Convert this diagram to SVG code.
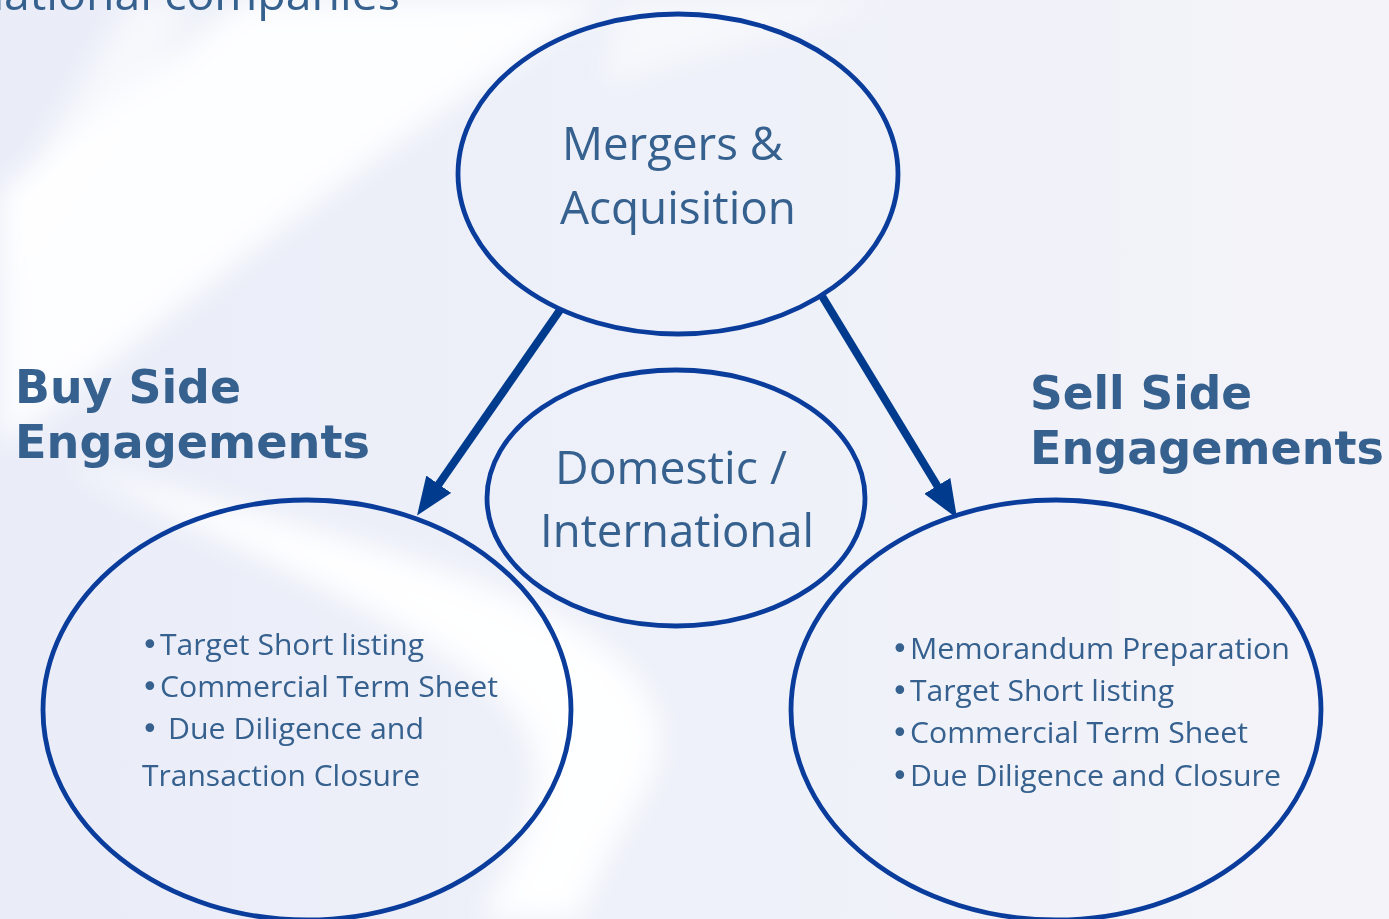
<svg xmlns="http://www.w3.org/2000/svg" width="1389" height="919" viewBox="0 0 1389 919">
  <defs>
    <style>
      .ell { fill: none; stroke: #0a3c9c; stroke-width: 4.8; }
      .t { font-family: "Open Sans", "Noto Sans", sans-serif; fill: #36618f; }
      .big { font-size: 46px; }
      .lst { font-size: 30px; }
      .b { font-family: "DejaVu Sans", sans-serif; font-size: 30px; }
      .hd { font-family: "DejaVu Sans", "Verdana", sans-serif; font-weight: bold; font-size: 46px; fill: #36618f; }
      .arr { stroke: #003b8e; stroke-width: 8; fill: none; marker-end: url(#ah); }
    </style>
    <marker id="ah" viewBox="0 0 10 8" refX="0.5" refY="4" markerWidth="4.75" markerHeight="3.8" orient="auto" markerUnits="strokeWidth">
      <path d="M0,0 L10,4 L0,8 z" fill="#003b8e"/>
    </marker>
    <filter id="blur" x="-30%" y="-30%" width="160%" height="160%">
      <feGaussianBlur stdDeviation="14"/>
    </filter>
    <linearGradient id="bg" x1="0" y1="0" x2="1" y2="0">
      <stop offset="0" stop-color="#eaedf8"/>
      <stop offset="0.5" stop-color="#eef1f9"/>
      <stop offset="1" stop-color="#f4f3f9"/>
    </linearGradient>
  </defs>

  <g id="background">
    <rect x="0" y="0" width="1389" height="919" fill="url(#bg)"/>
    <g filter="url(#blur)" fill="#ffffff">
      <path d="M240,0 L610,0 C430,110 210,280 0,450 L0,190 C90,120 170,60 240,0 Z" opacity="0.9"/>
      <path d="M60,460 C200,500 380,540 520,600 C640,650 690,720 640,800 C610,850 590,890 580,919 L480,919 C520,850 560,780 520,720 C460,640 300,580 60,460 Z" opacity="0.95"/>
      <path d="M130,0 L200,0 L40,230 L0,290 L0,220 Z" opacity="0.6"/>
      <path d="M620,0 L900,0 C800,30 700,50 600,90 Z" opacity="0.5"/>
    </g>
  </g>

  <text class="t" y="10" font-size="44"><tspan x="4" text-anchor="end">Intern</tspan><tspan x="4" text-anchor="start" textLength="396" lengthAdjust="spacingAndGlyphs">ational companies</tspan></text>

  <g id="connectors">
    <line class="arr" x1="560" y1="310" x2="437.7" y2="485.8"/>
    <line class="arr" x1="822" y1="296" x2="938.3" y2="487.5"/>
  </g>

  <g id="node-ma">
    <ellipse class="ell" cx="678" cy="174" rx="220" ry="160"/>
    <text class="t big" x="562" y="160" textLength="221" lengthAdjust="spacingAndGlyphs">Mergers &amp;</text>
    <text class="t big" x="560" y="224" textLength="236" lengthAdjust="spacingAndGlyphs">Acquisition</text>
  </g>

  <g id="node-domestic">
    <ellipse class="ell" cx="676" cy="498" rx="189" ry="128"/>
    <text class="t big" x="555" y="484" textLength="232" lengthAdjust="spacingAndGlyphs">Domestic /</text>
    <text class="t big" x="540" y="547" textLength="274" lengthAdjust="spacingAndGlyphs">International</text>
  </g>

  <g id="node-buy">
    <ellipse class="ell" cx="307" cy="710" rx="264" ry="210"/>
    <text class="t lst" y="655"><tspan class="b" x="141">•</tspan><tspan x="160" textLength="264" lengthAdjust="spacingAndGlyphs">Target Short listing</tspan></text>
    <text class="t lst" y="697"><tspan class="b" x="141">•</tspan><tspan x="160" textLength="338" lengthAdjust="spacingAndGlyphs">Commercial Term Sheet</tspan></text>
    <text class="t lst" y="739"><tspan class="b" x="141">•</tspan><tspan x="168" textLength="256" lengthAdjust="spacingAndGlyphs">Due Diligence and</tspan></text>
    <text class="t lst" x="142" y="786" textLength="278" lengthAdjust="spacingAndGlyphs">Transaction Closure</text>
  </g>

  <g id="node-sell">
    <ellipse class="ell" cx="1056" cy="710" rx="265" ry="210"/>
    <text class="t lst" y="659"><tspan class="b" x="891">•</tspan><tspan x="910" textLength="380" lengthAdjust="spacingAndGlyphs">Memorandum Preparation</tspan></text>
    <text class="t lst" y="701"><tspan class="b" x="891">•</tspan><tspan x="910" textLength="264" lengthAdjust="spacingAndGlyphs">Target Short listing</tspan></text>
    <text class="t lst" y="743"><tspan class="b" x="891">•</tspan><tspan x="910" textLength="338" lengthAdjust="spacingAndGlyphs">Commercial Term Sheet</tspan></text>
    <text class="t lst" y="786"><tspan class="b" x="891">•</tspan><tspan x="910" textLength="371" lengthAdjust="spacingAndGlyphs">Due Diligence and Closure</tspan></text>
  </g>

  <g id="label-buy">
    <text class="hd" x="15" y="403" textLength="226" lengthAdjust="spacingAndGlyphs">Buy Side</text>
    <text class="hd" x="15" y="458" textLength="355" lengthAdjust="spacingAndGlyphs">Engagements</text>
  </g>

  <g id="label-sell">
    <text class="hd" x="1030" y="409" textLength="222" lengthAdjust="spacingAndGlyphs">Sell Side</text>
    <text class="hd" x="1030" y="464" textLength="354" lengthAdjust="spacingAndGlyphs">Engagements</text>
  </g>
</svg>
